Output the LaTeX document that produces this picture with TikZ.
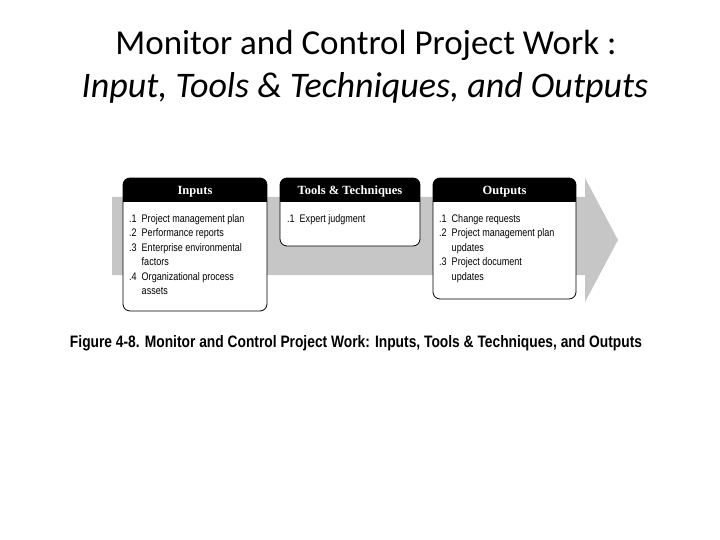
\documentclass[tikz,border=0pt]{standalone}
\usepackage{fontspec}
\setmainfont{Carlito}
\newfontfamily\fig{Liberation Sans}
\newfontfamily\figc[FakeStretch=0.82]{Liberation Sans}
\newfontfamily\slab{Liberation Serif}
\begin{document}
\begin{tikzpicture}[x=1pt,y=-1pt,
  box/.style={draw=black,line width=0.8pt,fill=white,rounded corners=7pt},
  head/.style={text=white,anchor=base,font=\slab\bfseries\fontsize{12.5}{14}\selectfont},
  items/.style={font=\figc\fontsize{11}{14.5}\selectfont,align=left,anchor=north west,inner sep=0pt}]
\useasboundingbox (0,0) rectangle (720,540);
\node (t1) at (366,45) {\fontsize{35}{40}\selectfont Monitor and Control Project Work :};
\node (t2) at (365,88) {\fontsize{36}{40}\selectfont\itshape Input, Tools \& Techniques, and Outputs};
\fill[gray!45] (112,197) -- (585,197) -- (585,178) -- (618,240) -- (585,302) -- (585,275) -- (112,275) -- cycle;
\foreach \n/\a/\b/\c in {in/123/267/311, tt/280/420/246, out/433/576/299}{
  \draw[box] (\a,178) rectangle (\b,\c);
  \begin{scope}
    \clip[rounded corners=7pt] (\a,178) rectangle (\b,\c);
    \fill[black] (\a,178) rectangle (\b,202);
  \end{scope}
  \coordinate (\n) at ({(\a+\b)/2},195);
}
\node[head] (hin) at (in) {Inputs};
\node[head] (htt) at (tt) {Tools \& Techniques};
\node[head] (hout) at (out) {Outputs};
\node[items] (lin) at (129,214) {.1\ \ Project management plan\\.2\ \ Performance reports\\.3\ \ Enterprise environmental\\\phantom{.3\ \ }factors\\.4\ \ Organizational process\\\phantom{.4\ \ }assets};
\node[items] (ltt) at (287,214) {.1\ \ Expert judgment};
\node[items] (lout) at (439,214) {.1\ \ Change requests\\.2\ \ Project management plan\\\phantom{.2\ \ }updates\\.3\ \ Project document\\\phantom{.3\ \ }updates};
\node (cap) at (356,343) {\resizebox{572pt}{12pt}{\fig\bfseries Figure 4-8. Monitor and Control Project Work: Inputs, Tools \& Techniques, and Outputs}};
\end{tikzpicture}
\end{document}
